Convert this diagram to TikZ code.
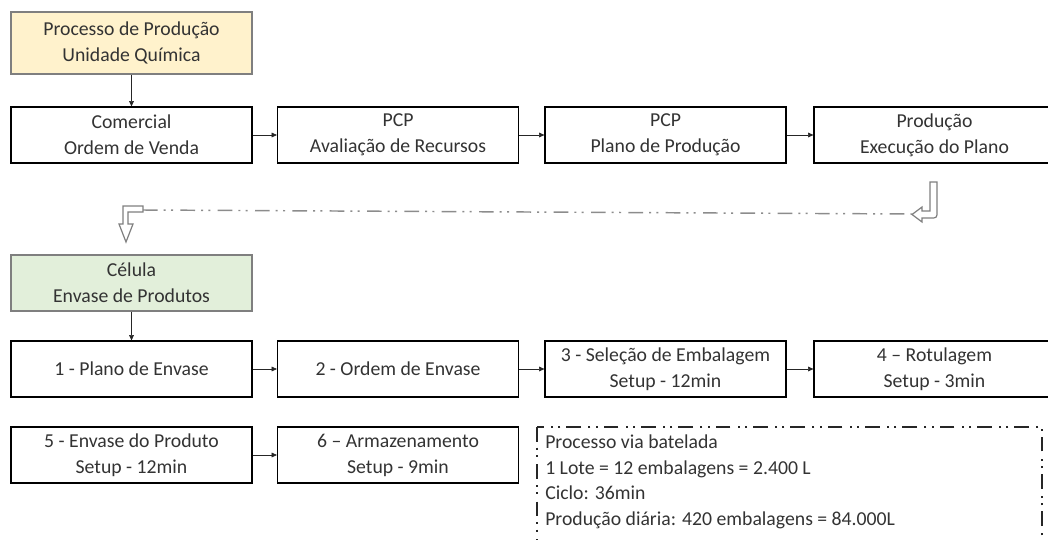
\documentclass[tikz,border=0pt]{standalone}
\usepackage{fontspec}
\setmainfont{Carlito}
\usetikzlibrary{arrows.meta}

\definecolor{txtcinza}{HTML}{333333}
\definecolor{amarelo}{HTML}{FFF2CC}
\definecolor{verde}{HTML}{E2EFDA}
\definecolor{bordacinza}{HTML}{7F7F7F}
\definecolor{linhacinza}{HTML}{8C8C8C}

\tikzset{
  etapa/.style={draw=black, line width=0.9pt, fill=white, minimum width=180.75pt,
    minimum height=42pt, inner sep=0pt, align=center, text=txtcinza,
    font=\fontsize{14.8}{19.5}\selectfont},
  titulo/.style={etapa, draw=bordacinza},
  seta/.style={-{Triangle[length=4pt,width=3.6pt]}, line width=0.5pt, draw=black!85},
  oca/.style={draw=bordacinza, fill=white, line width=0.9pt, line join=miter},
  tracoponto/.style={line width=1.1pt,
    dash pattern=on 11pt off 4.5pt on 1.5pt off 4pt on 1.5pt off 5.5pt},
}

\begin{document}
\begin{tikzpicture}[x=0.75pt, y=-0.75pt]
  \useasboundingbox (0,0) rectangle (1048,539);

  % unidade quimica
  \node[titulo, fill=amarelo, minimum height=46.5pt] (proc) at (131.5,43) {Processo de Produção\\Unidade Química};
  \node[etapa] (com) at (131.5,135) {Comercial\\Ordem de Venda};
  \node[etapa] (aval) at (398,135) {PCP\\Avaliação de Recursos};
  \node[etapa] (plano) at (665.5,135) {PCP\\Plano de Produção};
  \node[etapa] (exec) at (934.5,135) {Produção\\Execução do Plano};

  \draw[seta] (proc) -- (com);
  \draw[seta] (com) -- (aval);
  \draw[seta] (aval) -- (plano);
  \draw[seta] (plano) -- (exec);

  % retorno
  \coordinate (retini) at (143,210);
  \coordinate (retfim) at (912,214);
  \draw[linhacinza, tracoponto] (retini) -- (retfim);
  \draw[oca] (143,206) -- (123,206) -- (123,224) -- (119,224) -- (126,242) -- (133,224)
    -- (128,224) -- (128,212) -- (143,212) -- cycle;
  \draw[oca] (930,182) -- (937,182) -- (937,211) .. controls (937,218) .. (930,218)
    -- (922,218) -- (922,222) -- (912,214.5) -- (922,207) -- (922,211) -- (930,211) -- cycle;

  % celula
  \node[titulo, fill=verde] (cel) at (131.5,283) {Célula\\Envase de Produtos};
  \node[etapa] (e1) at (131.5,369) {1 - Plano de Envase};
  \node[etapa] (e2) at (398,369) {2 - Ordem de Envase};
  \node[etapa] (e3) at (665.5,369) {3 - Seleção de Embalagem\\Setup - 12min};
  \node[etapa] (e4) at (934.5,369) {4 – Rotulagem\\Setup - 3min};
  \node[etapa] (e5) at (131.5,455) {5 - Envase do Produto\\Setup - 12min};
  \node[etapa] (e6) at (398,455) {6 – Armazenamento\\Setup - 9min};

  \draw[seta] (cel) -- (e1);
  \draw[seta] (e1) -- (e2);
  \draw[seta] (e2) -- (e3);
  \draw[seta] (e3) -- (e4);
  \draw[seta] (e5) -- (e6);

  % dados do processo
  \draw[tracoponto, black!85] (537,427) rectangle (1042,560);
  \node[anchor=west, align=left, inner sep=0pt, text=txtcinza,
    font=\fontsize{14.8}{19.2}\selectfont] (dados) at (545,482)
    {Processo via batelada\\1 Lote = 12 embalagens = 2.400 L\\Ciclo: 36min\\Produção diária: 420 embalagens = 84.000L};
\end{tikzpicture}
\end{document}
